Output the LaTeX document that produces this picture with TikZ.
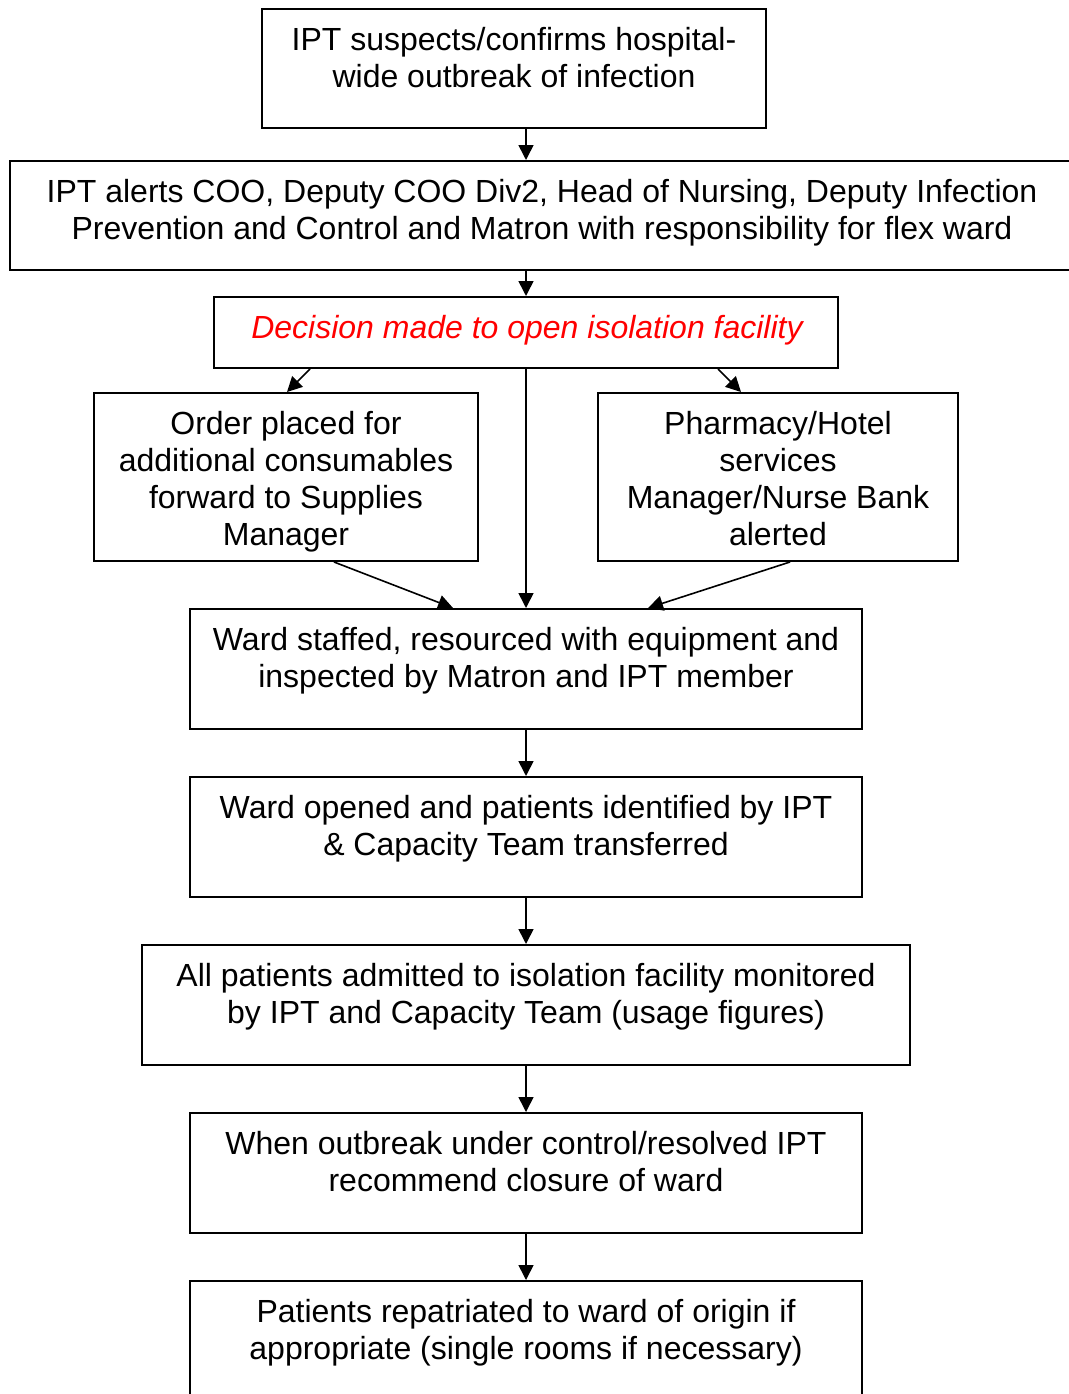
\documentclass[tikz,border=0pt]{standalone}
\usepackage{fontspec}
\setmainfont{Liberation Sans}
\usetikzlibrary{arrows.meta,fit}
\begin{document}
\begin{tikzpicture}[x=1pt,y=-1pt,
 box/.style={draw,line width=2pt,rectangle,inner sep=0pt},
 txt/.style={anchor=north,inner sep=0pt,align=center,font=\fontsize{32}{37}\selectfont},
 arr/.style={line width=1.6pt,-{Triangle[length=15pt,width=15pt]}}]
\useasboundingbox (0,0) rectangle (1068,1394);
% boxes
\node[box,fit={(262,9) (766,128)}] (b1) {};
\node[box,fit={(10,161) (1074,270)}] (b2) {};
\node[box,fit={(214,297) (838,368)}] (b3) {};
\node[box,fit={(94,393) (478,561)}] (b4) {};
\node[box,fit={(598,393) (958,561)}] (b5) {};
\node[box,fit={(190,609) (862,729)}] (b6) {};
\node[box,fit={(190,777) (862,897)}] (b7) {};
\node[box,fit={(142,945) (910,1065)}] (b8) {};
\node[box,fit={(190,1113) (862,1233)}] (b9) {};
\node[box,fit={(190,1281) (862,1402)}] (b10) {};
% texts
\node[txt] (t1) at (514,27) {IPT suspects/confirms hospital-\\wide outbreak of infection};
\node[txt] (t2) at (542,179) {IPT alerts COO, Deputy COO Div2, Head of Nursing, Deputy Infection\\Prevention and Control and Matron with responsibility for flex ward};
\node[txt,text=red,font=\fontsize{32}{37}\selectfont\itshape] (t3) at (527,315) {Decision made to open isolation facility};
\node[txt] (t4) at (286,411) {Order placed for\\additional consumables\\forward to Supplies\\Manager};
\node[txt] (t5) at (778,411) {Pharmacy/Hotel\\services\\Manager/Nurse Bank\\alerted};
\node[txt] (t6) at (526,627) {Ward staffed, resourced with equipment and\\inspected by Matron and IPT member};
\node[txt] (t7) at (526,795) {Ward opened and patients identified by IPT\\\& Capacity Team transferred};
\node[txt] (t8) at (526,963) {All patients admitted to isolation facility monitored\\by IPT and Capacity Team (usage figures)};
\node[txt] (t9) at (526,1131) {When outbreak under control/resolved IPT\\recommend closure of ward};
\node[txt] (t10) at (526,1299) {Patients repatriated to ward of origin if\\appropriate (single rooms if necessary)};
% x positions
\coordinate (xc) at (526,0);
\coordinate (xl1) at (310,0);
\coordinate (xl2) at (287,0);
\coordinate (xr1) at (718,0);
\coordinate (xr2) at (741,0);
\coordinate (xl3) at (334,0);
\coordinate (xl4) at (453,0);
\coordinate (xr3) at (790,0);
\coordinate (xr4) at (648,0);
% connectors
\draw[arr] (b1.south -| xc) -- (b2.north -| xc);
\draw[arr] (b2.south -| xc) -- (b3.north -| xc);
\draw[arr] (b3.south -| xl1) -- (b4.north -| xl2);
\draw[arr] (b3.south -| xr1) -- (b5.north -| xr2);
\draw[arr] (b3.south -| xc) -- (b6.north -| xc);
\draw[arr] (b4.south -| xl3) -- (b6.north -| xl4);
\draw[arr] (b5.south -| xr3) -- (b6.north -| xr4);
\draw[arr] (b6.south -| xc) -- (b7.north -| xc);
\draw[arr] (b7.south -| xc) -- (b8.north -| xc);
\draw[arr] (b8.south -| xc) -- (b9.north -| xc);
\draw[arr] (b9.south -| xc) -- (b10.north -| xc);
\end{tikzpicture}
\end{document}
